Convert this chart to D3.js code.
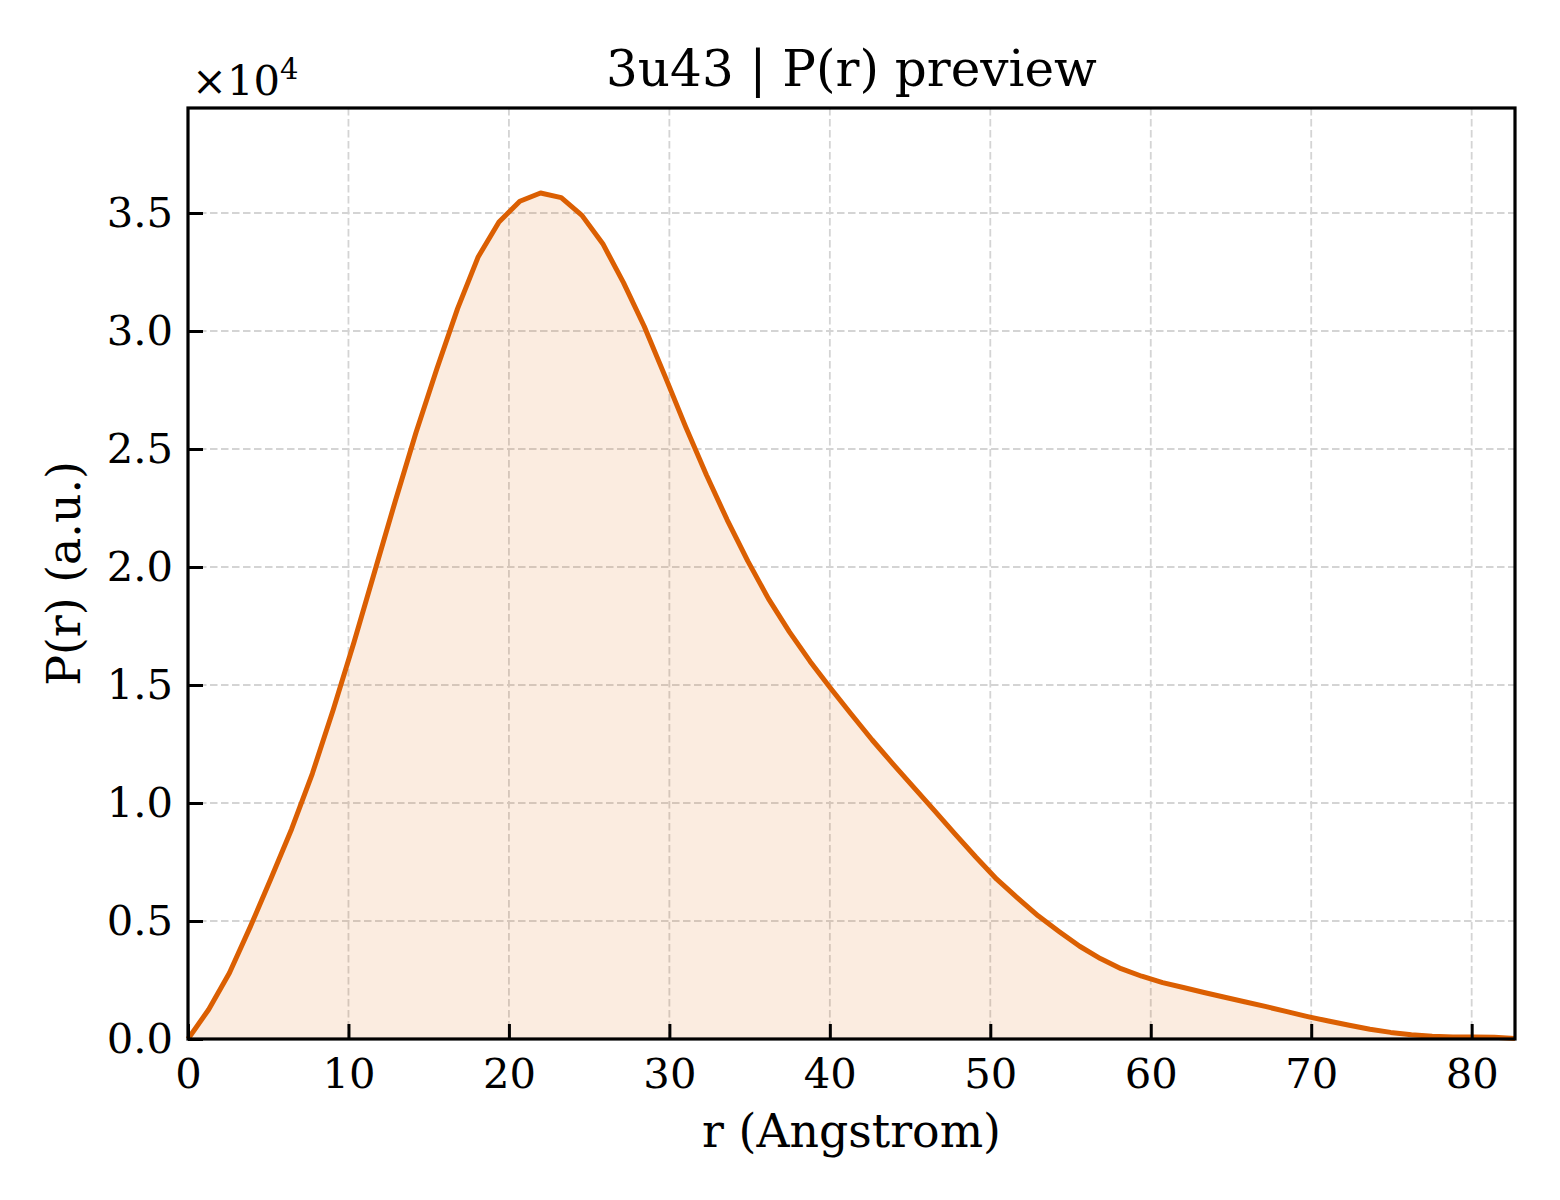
<!DOCTYPE html>
<html>
<head>
<meta charset="utf-8">
<script src="https://cdn.jsdelivr.net/npm/d3@7"></script>
<style>
  html, body { margin: 0; padding: 0; background: #fff; }
  svg { display: block; font-family: "DejaVu Serif", serif; }
</style>
</head>
<body>
<svg id="chart" width="1560" height="1200"></svg>
<script>
// r grid (Angstrom) and P(r) values in units of 1e4
const rValues = [
  0.00, 1.29, 2.58, 3.88, 5.17, 6.46, 7.75, 9.05, 10.34, 11.63,
  12.92, 14.21, 15.51, 16.80, 18.09, 19.38, 20.68, 21.97, 23.26, 24.55,
  25.85, 27.14, 28.43, 29.72, 31.01, 32.31, 33.60, 34.89, 36.18, 37.48,
  38.77, 40.06, 41.35, 42.64, 43.94, 45.23, 46.52, 47.81, 49.11, 50.40,
  51.69, 52.98, 54.28, 55.57, 56.86, 58.15, 59.44, 60.74, 62.03, 63.32,
  64.61, 65.91, 67.20, 68.49, 69.78, 71.07, 72.37, 73.66, 74.95, 76.24,
  77.54, 78.83, 80.12, 81.41, 82.70
];
const prValues = [
  0.000, 0.125, 0.280, 0.475, 0.680, 0.890, 1.125, 1.395, 1.680, 1.980,
  2.280, 2.570, 2.840, 3.095, 3.315, 3.462, 3.550, 3.585, 3.565, 3.490,
  3.370, 3.205, 3.020, 2.810, 2.595, 2.390, 2.200, 2.025, 1.865, 1.725,
  1.600, 1.485, 1.375, 1.267, 1.165, 1.066, 0.968, 0.868, 0.770, 0.677,
  0.598, 0.522, 0.456, 0.393, 0.341, 0.298, 0.266, 0.239, 0.218, 0.197,
  0.177, 0.157, 0.137, 0.116, 0.095, 0.076, 0.058, 0.041, 0.028, 0.018,
  0.012, 0.009, 0.008, 0.007, 0.002
];
const xTicks = [0, 10, 20, 30, 40, 50, 60, 70, 80];
const yTicks = [0.0, 0.5, 1.0, 1.5, 2.0, 2.5, 3.0, 3.5];

const titleText = "3u43 | P(r) preview";
const xLabel = "r (Angstrom)";
const yLabel = "P(r) (a.u.)";

const lineColor = "#db5f02";

const svg = d3.select("#chart");
const margin = { top: 108, right: 45, bottom: 161, left: 188 };
const width = 1560 - margin.left - margin.right;   // 1327
const height = 1200 - margin.top - margin.bottom;  // 931

const data = rValues.map((r, i) => ({ r: r, p: prValues[i] }));

const x = d3.scaleLinear().domain([0, 82.7]).range([0, width]);
const y = d3.scaleLinear().domain([0, 3.945]).range([height, 0]);

const g = svg.append("g").attr("transform", `translate(${margin.left},${margin.top})`);

// dashed grid
g.append("g")
  .selectAll("line")
  .data(xTicks.filter(d => d > 0))
  .enter()
  .append("line")
  .attr("x1", d => x(d)).attr("x2", d => x(d))
  .attr("y1", 0).attr("y2", height)
  .attr("stroke", "#d4d4d4")
  .attr("stroke-width", 1.8)
  .attr("stroke-dasharray", "7.5,3.5");

g.append("g")
  .selectAll("line")
  .data(yTicks.filter(d => d > 0))
  .enter()
  .append("line")
  .attr("x1", 0).attr("x2", width)
  .attr("y1", d => y(d)).attr("y2", d => y(d))
  .attr("stroke", "#d4d4d4")
  .attr("stroke-width", 1.8)
  .attr("stroke-dasharray", "7.5,3.5");

// filled area under the curve
const area = d3.area()
  .x(d => x(d.r))
  .y0(y(0))
  .y1(d => y(d.p));

g.append("path")
  .datum(data)
  .attr("fill", lineColor)
  .attr("fill-opacity", 0.12)
  .attr("d", area);

const line = d3.line()
  .x(d => x(d.r))
  .y(d => y(d.p));

g.append("path")
  .datum(data)
  .attr("fill", "none")
  .attr("stroke", lineColor)
  .attr("stroke-width", 5)
  .attr("stroke-linejoin", "round")
  .attr("d", line);

// axes with inward ticks
const xAxis = g.append("g")
  .attr("transform", `translate(0,${height})`)
  .call(d3.axisBottom(x).tickValues(xTicks).tickFormat(d3.format("d")).tickSize(-15).tickPadding(19));
xAxis.select(".domain").remove();
xAxis.selectAll(".tick line").attr("stroke", "#000").attr("stroke-width", 3);
xAxis.selectAll(".tick text").attr("font-size", 41.7).attr("fill", "#000")
  .attr("font-family", "DejaVu Serif");

const yAxis = g.append("g")
  .call(d3.axisLeft(y).tickValues(yTicks).tickFormat(d3.format(".1f")).tickSize(-15).tickPadding(15));
yAxis.select(".domain").remove();
yAxis.selectAll(".tick line").attr("stroke", "#000").attr("stroke-width", 3);
yAxis.selectAll(".tick text").attr("font-size", 41.7).attr("fill", "#000")
  .attr("font-family", "DejaVu Serif");

// frame
g.append("rect")
  .attr("x", 0).attr("y", 0)
  .attr("width", width).attr("height", height)
  .attr("fill", "none")
  .attr("stroke", "#000")
  .attr("stroke-width", 3.2);

// offset text ×10^4
const off = svg.append("text")
  .attr("x", margin.left + 4)
  .attr("y", 95)
  .attr("font-size", 41.7)
  .attr("fill", "#000");
off.append("tspan").text("×10");
off.append("tspan").attr("font-size", 29).attr("dy", -16).text("4");

// title
svg.append("text")
  .attr("x", margin.left + width / 2)
  .attr("y", 86)
  .attr("text-anchor", "middle")
  .attr("font-size", 50)
  .attr("fill", "#000")
  .text(titleText);

// axis labels
svg.append("text")
  .attr("x", margin.left + width / 2)
  .attr("y", 1147)
  .attr("text-anchor", "middle")
  .attr("font-size", 45.8)
  .attr("fill", "#000")
  .text(xLabel);

svg.append("text")
  .attr("transform", `translate(80,${margin.top + height / 2}) rotate(-90)`)
  .attr("text-anchor", "middle")
  .attr("font-size", 45.8)
  .attr("fill", "#000")
  .text(yLabel);
</script>
</body>
</html>
